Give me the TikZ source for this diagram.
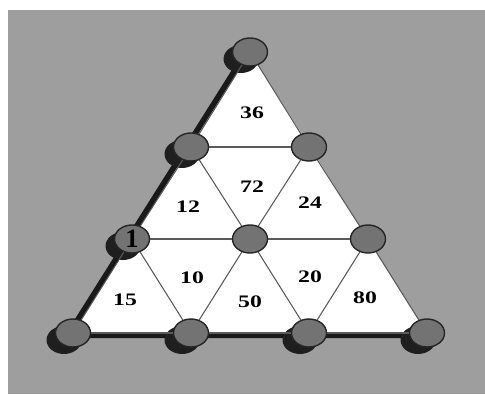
\documentclass[tikz,border=0pt]{standalone}
\usepackage{fontspec}
\setmainfont{Liberation Serif}
\usetikzlibrary{positioning, shapes.geometric, shadows, backgrounds}
\tikzset{
    joint/.style = {ellipse, draw=black!85, thick, fill=black!55, minimum width=0.7cm,
                        minimum height=0.56cm, inner sep=0pt},
    basejoint/.style = {joint, drop shadow={shadow xshift=-0.18cm, shadow yshift=-0.14cm,
                        opacity=1, fill=black!88}},
    rib/.style = {draw=black!65, line width=0.6pt},
    count/.style = {font=\bfseries\fontsize{10}{12}\selectfont, xscale=1.35, inner sep=1pt}
}

\begin{document}
\begin{tikzpicture}
		% joints of the triangle
		\node (top) [basejoint] at (5.0,-1.04) {};
		\node (l1) [basejoint] at (3.82,-2.94) {};
		\node (r1) [joint] at (6.18,-2.94) {};
		\node (l2) [basejoint, font=\bfseries\fontsize{15}{15}\selectfont] at (2.64,-4.78) {1};
		\node (c2) [joint] at (5.0,-4.78) {};
		\node (r2) [joint] at (7.36,-4.78) {};
		\node (b1) [basejoint] at (1.46,-6.66) {};
		\node (b2) [basejoint] at (3.82,-6.66) {};
		\node (b3) [basejoint] at (6.18,-6.66) {};
		\node (b4) [basejoint] at (8.54,-6.66) {};
		% paper, base shadow and white face
		\begin{scope}[on background layer]
			\fill [white] (0,0) rectangle (9.7,-7.88);
			\fill [black!38] (0.16,-0.2) rectangle (9.7,-7.88);
			\fill [black!90] ([shift={(-0.2,-0.1)}]top.center) -- ([shift={(-0.2,-0.1)}]b1.center)
				-- ([shift={(-0.2,-0.1)}]b4.center) -- cycle;
			\fill [white] (top.center) -- (b1.center) -- (b4.center) -- cycle;
		\end{scope}
		% outer edges
		\draw [rib] (top) -- (l1);
		\draw [rib] (l1) -- (l2);
		\draw [rib] (l2) -- (b1);
		\draw [rib] (b1) -- (b2);
		\draw [rib] (b2) -- (b3);
		\draw [rib] (b3) -- (b4);
		\draw [rib] (b4) -- (r2);
		\draw [rib] (r2) -- (r1);
		\draw [rib] (r1) -- (top);
		% inner edges
		\draw [rib] (l1) -- (r1);
		\draw [rib] (l2) -- (c2);
		\draw [rib] (c2) -- (r2);
		\draw [rib] (l1) -- (c2);
		\draw [rib] (c2) -- (b3);
		\draw [rib] (r1) -- (c2);
		\draw [rib] (c2) -- (b2);
		\draw [rib] (l2) -- (b2);
		\draw [rib] (r2) -- (b3);
		% numbers in the cells
		\node (n36) [count] at (5.04,-2.26) {36};
		\node (n72) [count] at (5.04,-3.74) {72};
		\node (n12) [count] at (3.76,-4.14) {12};
		\node (n24) [count] at (6.2,-4.06) {24};
		\node (n10) [count] at (3.84,-5.56) {10};
		\node (n50) [count] at (5.0,-6.04) {50};
		\node (n20) [count] at (6.2,-5.54) {20};
		\node (n80) [count] at (7.3,-5.96) {80};
		\node (n15) [count] at (2.5,-6.0) {15};
	\end{tikzpicture}
\end{document}
